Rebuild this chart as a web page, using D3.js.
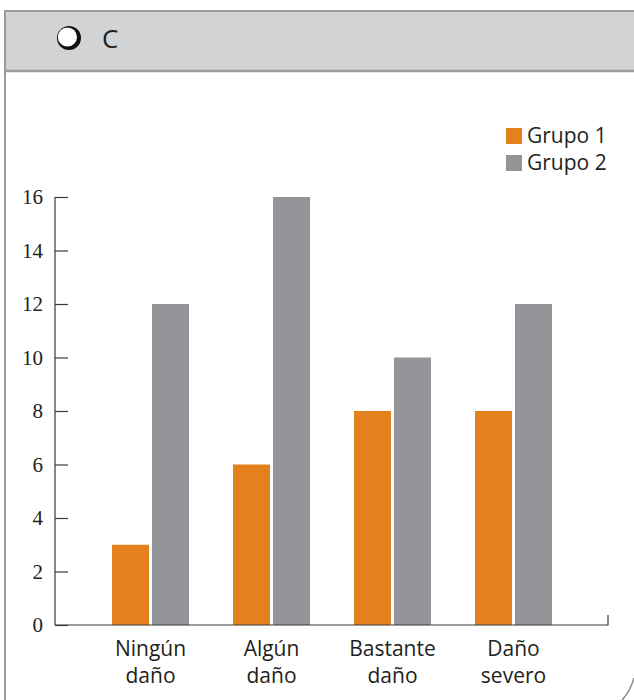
<!DOCTYPE html>
<html>
<head>
<meta charset="utf-8">
<script src="https://cdn.jsdelivr.net/npm/d3@7"></script>
<style>
  html, body { margin: 0; padding: 0; background: #fff; }
  svg { display: block; }
</style>
</head>
<body>
<svg id="chart" width="634" height="700"></svg>
<script>
// Categories (two-line labels) and the two series
const categories = ["Ningún daño", "Algún daño", "Bastante daño", "Daño severo"];
const categoryLines = [["Ningún", "daño"], ["Algún", "daño"], ["Bastante", "daño"], ["Daño", "severo"]];
const groups = ["Grupo 1", "Grupo 2"];
const grupo1 = [3, 6, 8, 8];
const grupo2 = [12, 16, 10, 12];
const yTicks = [0, 2, 4, 6, 8, 10, 12, 14, 16];
const colors = ["#e5801e", "#939598"];

const svg = d3.select("#chart");
const sans = "'Open Sans', 'DejaVu Sans', sans-serif";
const serif = "'Liberation Serif', 'DejaVu Serif', serif";

// Header band
svg.append("rect").attr("x", 5).attr("y", 11).attr("width", 629).attr("height", 60)
  .attr("fill", "#d2d3d5");
svg.append("line").attr("x1", 5).attr("x2", 634).attr("y1", 11).attr("y2", 11)
  .attr("stroke", "#9a9b9d").attr("stroke-width", 2);
svg.append("line").attr("x1", 5).attr("x2", 634).attr("y1", 71).attr("y2", 71)
  .attr("stroke", "#9a9b9d").attr("stroke-width", 2.5);
// Left frame line
svg.append("line").attr("x1", 5).attr("x2", 5).attr("y1", 10).attr("y2", 700)
  .attr("stroke", "#9a9b9d").attr("stroke-width", 2);
// Rounded bottom-right corner fragment
svg.append("path").attr("d", "M634,678 Q630,692 622,700")
  .attr("fill", "none").attr("stroke", "#8a8b8d").attr("stroke-width", 1.5);

// Option bullet and letter
svg.append("circle").attr("cx", 69).attr("cy", 38).attr("r", 12)
  .attr("fill", "#111");
svg.append("circle").attr("cx", 67.4).attr("cy", 37).attr("r", 9.6)
  .attr("fill", "#fff");
svg.append("text").attr("x", 102).attr("y", 48).attr("font-family", sans)
  .attr("font-size", 26).attr("fill", "#231f20").text("C");

// Scales
const y = d3.scaleLinear().domain([0, 16]).range([625, 197]);
const x0 = d3.scaleBand().domain(categories).range([90, 574]).padding(0);
const x1 = d3.scaleBand().domain(groups).range([22, 99]).paddingInner(0.075);

// Y axis
const yAxis = svg.append("g").attr("transform", "translate(55,0)")
  .call(d3.axisRight(y).tickValues(yTicks).tickSize(13).tickFormat(""));
yAxis.select(".domain").remove();
yAxis.selectAll(".tick line").attr("stroke", "#3a3a3a").attr("stroke-width", 1.2);
svg.append("line").attr("x1", 55).attr("x2", 55).attr("y1", y(16)).attr("y2", y(0))
  .attr("stroke", "#3a3a3a").attr("stroke-width", 1.2);
svg.append("g").selectAll("text").data(yTicks).join("text")
  .attr("x", 43).attr("y", d => y(d) + 7)
  .attr("text-anchor", "end").attr("font-family", serif).attr("font-size", 21)
  .attr("fill", "#231f20").text(d => d);

// Bars
const rows = categories.map((c, i) => ({ cat: c, values: [grupo1[i], grupo2[i]] }));
const gCat = svg.append("g").selectAll("g").data(rows).join("g")
  .attr("transform", d => `translate(${x0(d.cat)},0)`);
gCat.selectAll("rect").data(d => d.values.map((v, j) => ({ g: groups[j], v, j })))
  .join("rect")
  .attr("x", d => x1(d.g)).attr("width", x1.bandwidth())
  .attr("y", d => y(d.v)).attr("height", d => y(0) - y(d.v))
  .attr("fill", d => colors[d.j]);

// X axis baseline with end tick
svg.append("path").attr("d", `M55,${y(0)} H608 V${y(0) - 10}`)
  .attr("fill", "none").attr("stroke", "#3a3a3a").attr("stroke-width", 1.2);

// Category labels
const lbl = svg.append("g").selectAll("text").data(categories).join("text")
  .attr("text-anchor", "middle").attr("font-family", sans).attr("font-size", 21)
  .attr("fill", "#231f20");
lbl.each(function(d, i) {
  const t = d3.select(this);
  const cx = x0(d) + x0.bandwidth() / 2;
  categoryLines[i].forEach((line, k) => {
    t.append("tspan").attr("x", cx).attr("y", 656 + k * 27).text(line);
  });
});

// Legend
const leg = svg.append("g").selectAll("g").data(groups).join("g")
  .attr("transform", (d, i) => `translate(506,${128 + i * 27})`);
leg.append("rect").attr("width", 16).attr("height", 16).attr("fill", (d, i) => colors[i]);
leg.append("text").attr("x", 21).attr("y", 15).attr("font-family", sans)
  .attr("font-size", 21).attr("fill", "#231f20").text(d => d);
</script>
</body>
</html>
